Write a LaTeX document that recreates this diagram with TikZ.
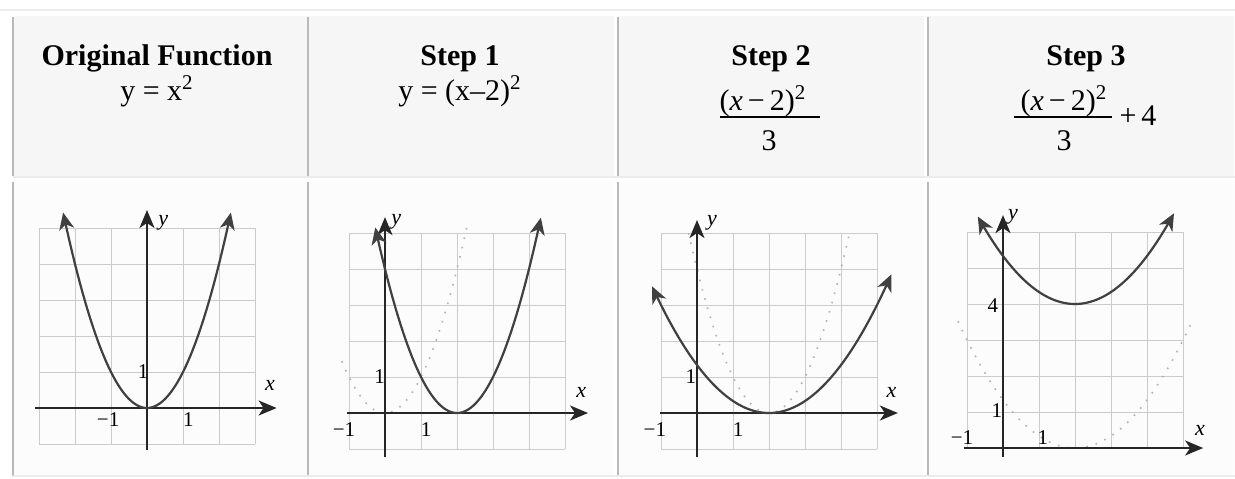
\documentclass[tikz,border=0pt]{standalone}
\usepackage{fontspec}
\setmainfont{Liberation Serif}
\usetikzlibrary{arrows.meta}

\begin{document}
\begin{tikzpicture}[
    x=0.5pt, y=-0.5pt,
    headcell/.style={fill=gray!7},
    bodycell/.style={fill=gray!2},
    edge/.style={draw=gray!55, line width=0.7pt},
    rule/.style={draw=gray!15, line width=0.6pt},
    title/.style={font=\fontsize{15}{18}\selectfont\bfseries, anchor=base, inner sep=0pt},
    formula/.style={font=\fontsize{15}{18}\selectfont, anchor=base, inner sep=0pt},
    gridline/.style={draw=gray!40, line width=0.5pt},
    axis/.style={-{Stealth[length=9pt, width=7.5pt, inset=2.5pt]}, line width=1pt, black!85},
    curve/.style={{Stealth[length=8.5pt, width=7.5pt, inset=2.5pt]}-{Stealth[length=8.5pt, width=7.5pt, inset=2.5pt]}, line width=1.1pt, black!75, samples=60, smooth},
    ghost/.style={gray!60, line width=0.8pt, dash pattern=on 0.8pt off 4pt, samples=60, smooth},
    ticklab/.style={font=\fontsize{10.5}{12}\selectfont, inner sep=0pt},
    varlab/.style={font=\fontsize{11}{13}\selectfont\itshape, inner sep=0pt}
]
    \useasboundingbox (0,0) rectangle (1235,478);

    % table cells
    \foreach \c in {13,308,618,928} {
        \fill[headcell] (\c,16) rectangle ++(306,160);
        \fill[bodycell] (\c,182) rectangle ++(306,294);
        \draw[edge] (\c,17) -- (\c,176);
        \draw[edge] (\c,182) -- (\c,476);
    }
    \draw[rule] (0,10) -- (1235,10);
    \draw[rule] (13,177) -- (1235,177);
    \draw[rule] (13,476) -- (1235,476);

    % header row
    \node[title] (orig) at (157,65) {Original Function};
    \node[formula] (origeq) at (157,100) {y = x\textsuperscript{2}};
    \node[title] (stepone) at (460,65) {Step 1};
    \node[formula] (steponeeq) at (460,100) {y = (x–2)\textsuperscript{2}};
    \node[title] (steptwo) at (771,65) {Step 2};
    \node[formula] (steptwonum) at (763,110) {(\textit{x}\,−\,2)\textsuperscript{2}};
    \draw[line width=1pt] (720,117) -- (820,117);
    \node[formula] (steptwoden) at (769,150) {3};
    \node[title] (stepthree) at (1086,65) {Step 3};
    \node[formula] (stepthreenum) at (1064,110) {(\textit{x}\,−\,2)\textsuperscript{2}};
    \draw[line width=1pt] (1014,117) -- (1112,117);
    \node[formula] (stepthreeden) at (1064,150) {3};
    \node[formula] (stepthreeplus) at (1138,125) {+\,4};

    % original function
    \begin{scope}[shift={(73.5pt,-204pt)}, x=18pt, y=18pt]
        \foreach \i in {-3,...,3} \draw[gridline] (\i,-1) -- (\i,5);
        \foreach \j in {-1,...,5} \draw[gridline] (-3,\j) -- (3,\j);
        \draw[axis] (-3.1,0) -- (3.6,0);
        \draw[axis] (0,-1.17) -- (0,5.5);
        \draw[curve] plot[domain=-2.33:2.33] (\x,{\x*\x});
        \node[ticklab] (oxm) at (-1.08,-0.33) {−1};
        \node[ticklab] (oxp) at (1.15,-0.33) {1};
        \node[ticklab] (oyp) at (-0.11,1) {1};
        \node[varlab] (ox) at (3.42,0.64) {x};
        \node[varlab] (oy) at (0.45,5.14) {y};
    \end{scope}

    % step 1
    \begin{scope}[shift={(192.5pt,-206.5pt)}, x=18pt, y=18pt]
        \foreach \i in {-1,...,5} \draw[gridline] (\i,-1) -- (\i,5);
        \foreach \j in {-1,...,5} \draw[gridline] (-1,\j) -- (5,\j);
        \draw[ghost] plot[domain=-1.2:2.28] (\x,{\x*\x});
        \draw[axis] (-1.05,0) -- (5.64,0);
        \draw[axis] (0,-1.22) -- (0,5.44);
        \draw[curve] plot[domain=-0.27:4.33] (\x,{(\x-2)^2});
        \node[ticklab] (axm) at (-1.14,-0.47) {−1};
        \node[ticklab] (axp) at (1.14,-0.47) {1};
        \node[ticklab] (ayp) at (-0.15,1) {1};
        \node[varlab] (ax) at (5.45,0.58) {x};
        \node[varlab] (ay) at (0.31,5.3) {y};
    \end{scope}

    % step 2
    \begin{scope}[shift={(348.5pt,-206.5pt)}, x=18pt, y=18pt]
        \foreach \i in {-1,...,5} \draw[gridline] (\i,-1) -- (\i,5);
        \foreach \j in {-1,...,5} \draw[gridline] (-1,\j) -- (5,\j);
        \draw[ghost] plot[domain=-0.236:4.236] (\x,{(\x-2)^2});
        \draw[axis] (-1.03,0) -- (5.58,0);
        \draw[axis] (0,-1.22) -- (0,5.36);
        \draw[curve] plot[domain=-1.25:5.4] (\x,{(\x-2)^2/3});
        \node[ticklab] (bxm) at (-1.17,-0.47) {−1};
        \node[ticklab] (bxp) at (1.14,-0.47) {1};
        \node[ticklab] (byp) at (-0.17,1) {1};
        \node[varlab] (bx) at (5.4,0.58) {x};
        \node[varlab] (by) at (0.42,5.28) {y};
    \end{scope}

    % step 3
    \begin{scope}[shift={(501.5pt,-224pt)}, x=18pt, y=18pt]
        \foreach \i in {-1,...,5} \draw[gridline] (\i,0) -- (\i,6);
        \foreach \j in {0,...,6} \draw[gridline] (-1,\j) -- (5,\j);
        \draw[ghost] plot[domain=-1.25:5.25] (\x,{(\x-2)^2/3});
        \draw[axis] (-1.08,0) -- (5.56,0);
        \draw[axis] (0,-0.25) -- (0,6.47);
        \draw[curve] plot[domain=-0.7:4.75] (\x,{(\x-2)^2/3+4});
        \node[ticklab] (cxm) at (-1.14,0.28) {−1};
        \node[ticklab] (cxp) at (1.11,0.28) {1};
        \node[ticklab] (cyp) at (-0.17,1.05) {1};
        \node[ticklab] (cyf) at (-0.28,3.95) {4};
        \node[varlab] (cx) at (5.47,0.5) {x};
        \node[varlab] (cy) at (0.28,6.42) {y};
    \end{scope}
\end{tikzpicture}
\end{document}
